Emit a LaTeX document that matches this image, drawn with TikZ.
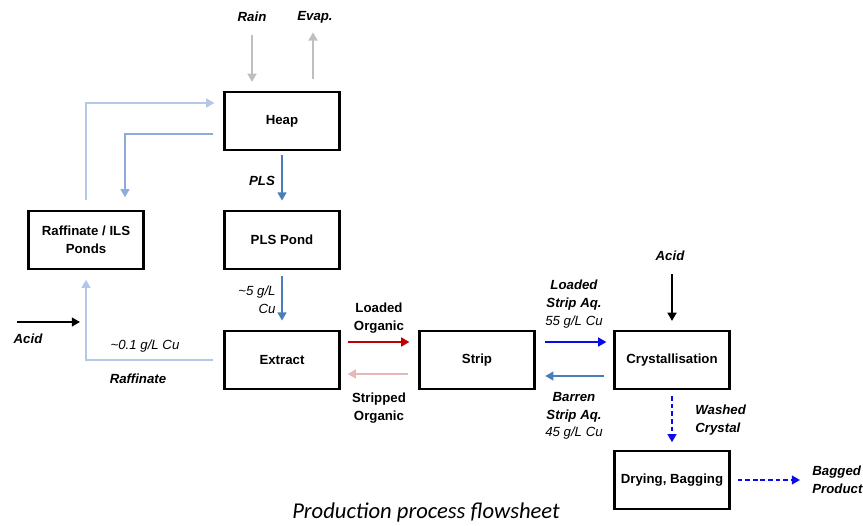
\documentclass[tikz,border=0pt]{standalone}
\usepackage{fontspec}
\setmainfont{Liberation Sans}
\newfontfamily\captionfont{Carlito}
\usepackage{xcolor}
\usepackage{tikz}
\usetikzlibrary{arrows.meta,positioning,calc}

\definecolor{weathergray}{RGB}{191,191,191}
\definecolor{raffblue}{RGB}{180,199,231}
\definecolor{leachblue}{RGB}{143,170,220}
\definecolor{plsblue}{RGB}{74,126,187}
\definecolor{loadedred}{RGB}{192,0,0}
\definecolor{strippedpink}{RGB}{230,184,183}
\definecolor{stripblue}{RGB}{10,10,235}

\newcommand{\labelfont}{\fontsize{11.3}{15}\selectfont}

\begin{document}
\begin{tikzpicture}[x=0.03cm, y=-0.03cm,
    unitbox/.style={draw, line width=2.4pt, minimum width=3.45cm, minimum height=1.74cm,
        align=center, font=\labelfont\bfseries},
    flow/.style={line width=1.7pt, -{Triangle[length=7pt,width=7.5pt]}},
    streamlbl/.style={align=center, inner sep=1pt, font=\labelfont\bfseries\itshape},
    conclbl/.style={align=center, inner sep=1pt, font=\labelfont\itshape},
    orglbl/.style={align=center, inner sep=1pt, font=\labelfont\bfseries}]
    \useasboundingbox (0,0) rectangle (863,525);

    % Process units
    \node[unitbox] (heap) at (282,121) {Heap};
    \node[unitbox] (plspond) at (282,240) {PLS Pond};
    \node[unitbox] (raffpond) at (86,240) {Raffinate / ILS\\Ponds};
    \node[unitbox] (extract) at (282,360) {Extract};
    \node[unitbox] (strip) at (477,360) {Strip};
    \node[unitbox] (cryst) at (672,360) {Crystallisation};
    \node[unitbox] (drying) at (672,480) {Drying, Bagging};

    % Rain and evaporation
    \node[streamlbl] (rain) at (252,17) {Rain};
    \node[streamlbl] (evap) at (315,17) {Evap.};
    \draw[flow, weathergray, shorten <=0.36cm, shorten >=0.26cm]
        (rain.south) -- (rain.south |- heap.north);
    \draw[flow, weathergray, shorten <=0.35cm, shorten >=0.24cm]
        ($(evap.south |- heap.north)+(-2,0)$) -- ($(evap.south)+(-2,0)$);

    % Leach circuit
    \draw[flow, raffblue, shorten <=0.28cm, shorten >=0.26cm]
        (raffpond.north) |- ($(heap.west)+(0,-18)$);
    \draw[flow, leachblue, shorten <=0.3cm, shorten >=0.37cm]
        ($(heap.west)+(0,13)$) -| ($(raffpond.north)+(39,0)$);
    \draw[flow, plsblue, shorten <=0.12cm, shorten >=0.27cm] (heap) -- (plspond);
    \node[streamlbl] (plslbl) at (262,181) {PLS};
    \draw[flow, plsblue, shorten <=0.18cm, shorten >=0.27cm] (plspond) -- (extract);
    \node[conclbl, align=right, anchor=east] (plsconc) at (277,300) {\textasciitilde5 g/L\\Cu};

    % Raffinate return and acid make-up
    \draw[flow, raffblue, shorten <=0.3cm, shorten >=0.28cm]
        (extract.west) -| (raffpond.south);
    \node[conclbl] (raffconc) at (145,346) {\textasciitilde0.1 g/L Cu};
    \node[streamlbl] (rafflbl) at (138,379) {Raffinate};
    \coordinate (acidin) at (17,322);
    \coordinate (acidout) at (80,322);
    \draw[flow, black] (acidin) -- (acidout);
    \node[streamlbl] (acidleft) at (28,339) {Acid};

    % Organic loop
    \draw[flow, loadedred, shorten <=0.2cm, shorten >=0.26cm]
        ($(extract.east)+(0,-18)$) -- ($(strip.west)+(0,-18)$);
    \node[orglbl] (loadedorg) at (379,318) {Loaded\\Organic};
    \draw[flow, strippedpink, shorten <=0.29cm, shorten >=0.2cm]
        ($(strip.west)+(0,14)$) -- ($(extract.east)+(0,14)$);
    \node[orglbl] (strippedorg) at (379,408) {Stripped\\Organic};

    % Strip aqueous loop
    \draw[flow, stripblue, shorten <=0.28cm, shorten >=0.2cm]
        ($(strip.east)+(0,-18)$) -- ($(cryst.west)+(0,-18)$);
    \node[streamlbl] (loadedaq) at (574,304)
        {Loaded\\Strip Aq.\\{\mdseries 55 g/L Cu}};
    \draw[flow, plsblue, shorten <=0.26cm, shorten >=0.28cm]
        ($(cryst.west)+(0,16)$) -- ($(strip.east)+(0,16)$);
    \node[streamlbl] (barrenaq) at (574,416)
        {Barren\\Strip Aq.\\{\mdseries 45 g/L Cu}};

    % Crystallisation and product
    \node[streamlbl] (acidtop) at (670,256) {Acid};
    \draw[flow, black, shorten <=0.36cm, shorten >=0.26cm]
        (acidtop.south -| cryst.north) -- (cryst.north);
    \draw[flow, stripblue, dash pattern=on 4pt off 2.5pt, shorten <=0.17cm, shorten >=0.22cm]
        (cryst) -- (drying);
    \node[streamlbl, align=left, anchor=west] (washed) at (694,420) {Washed\\Crystal};
    \node[streamlbl, align=left, anchor=west] (bagged) at (811,480) {Bagged\\Product};
    \draw[flow, stripblue, dash pattern=on 4pt off 2.5pt, shorten <=0.2cm, shorten >=0.33cm]
        (drying.east) -- (bagged.west);

    % Caption
    \node[font=\captionfont\itshape\fontsize{19.3}{22}\selectfont, anchor=base] (caption)
        at (426,518) {Production process flowsheet};
\end{tikzpicture}
\end{document}
